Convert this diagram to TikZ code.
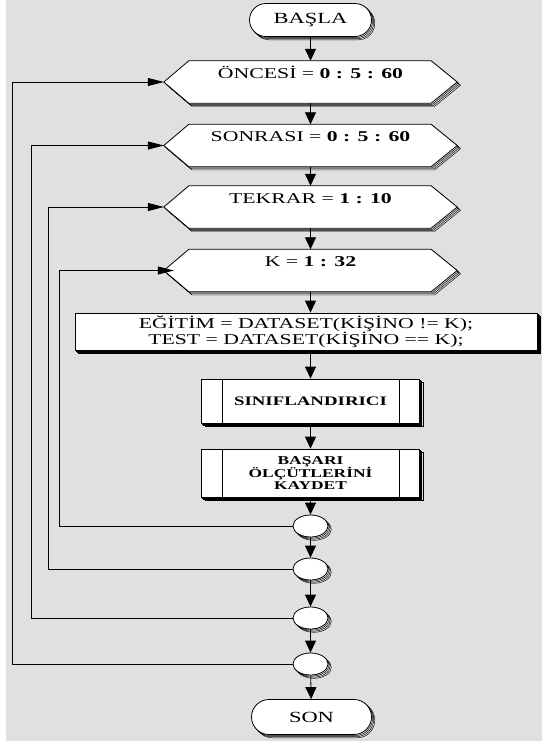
\documentclass[tikz,border=0pt]{standalone}
\usepackage{fontspec}
\setmainfont{Liberation Serif}[FakeStretch=1.45]
\usetikzlibrary{arrows.meta,shapes.misc,shapes.geometric}
\definecolor{bg}{HTML}{E0E0E0}
\begin{document}
\begin{tikzpicture}[x=1pt,y=-1pt,
  lay/.style={
    preaction={draw,line width=0.45pt,transform canvas={shift={(3.3pt,-3.3pt)}}},
    preaction={draw,line width=0.45pt,transform canvas={shift={(2.2pt,-2.2pt)}}},
    preaction={draw,line width=0.45pt,transform canvas={shift={(1.1pt,-1.1pt)}}},
    draw, fill=white, line width=0.8pt},
  term/.style={rounded rectangle, lay, minimum width=122pt, minimum height=33pt,
    inner sep=0pt, font=\fontsize{15.5}{18}\selectfont},
  frame/.style={rectangle, minimum width=293pt, minimum height=42pt, inner sep=0pt},
  hextext/.style={font=\fontsize{15}{18}\selectfont, inner sep=0pt},
  pp/.style={rectangle, lay, minimum width=218pt, inner sep=0pt},
  conn/.style={ellipse, lay, minimum width=35pt, minimum height=22pt, inner sep=0pt},
  flow/.style={-{Triangle[length=12pt,width=11pt]}, line width=0.8pt},
  back/.style={-{Triangle[length=16pt,width=8pt]}, line width=0.8pt}
]
\useasboundingbox (0,0) rectangle (542,742);
\fill[bg] (6,0) rectangle (542,741);

% start / end terminals
\node[term] (start) at (310.5,20) {BAŞLA};
\node[term, minimum width=120pt, minimum height=35pt] (stop) at (311.5,717) {SON};

% loop headers (hexagons) built on invisible frames
\node[frame] (h1) at (310.5,82) {};
\node[frame] (h2) at (310.5,145.5) {};
\node[frame] (h3) at (310.5,207) {};
\node[frame] (h4) at (310.5,270.5) {};
\foreach \h in {h1,h2,h3,h4}
  \path[lay] (\h.west) -- ([xshift=25pt]\h.north west) -- ([xshift=-26pt]\h.north east)
    -- (\h.east) -- ([xshift=-26pt]\h.south east) -- ([xshift=25pt]\h.south west) -- cycle;
\node[hextext] (t1) at ([yshift=10pt]h1.center) {ÖNCESİ = \textbf{0 : 5 : 60}};
\node[hextext] (t2) at ([yshift=9pt]h2.center) {SONRASI = \textbf{0 : 5 : 60}};
\node[hextext] (t3) at ([yshift=8pt]h3.center) {TEKRAR = \textbf{1 : 10}};
\node[hextext] (t4) at ([yshift=8.5pt]h4.center) {K = \textbf{1 : 32}};

% data split box
\node[rectangle, lay, minimum width=462pt, minimum height=37pt, align=center, inner sep=0pt,
  font=\fontsize{15}{16}\selectfont] (split) at (306,331.5)
  {EĞİTİM = DATASET(KİŞİNO != K);\\TEST = DATASET(KİŞİNO == K);};

% predefined processes
\node[pp, minimum height=44pt, font=\bfseries\fontsize{13}{15}\selectfont] (p1) at (310.5,401) {SINIFLANDIRICI};
\node[pp, minimum height=48pt, align=center, font=\bfseries\fontsize{12}{12}\selectfont] (p2) at (310.5,473)
  {BAŞARI\\ÖLÇÜTLERİNİ\\KAYDET};
\foreach \p in {p1,p2} {
  \draw[line width=0.8pt] ([xshift=21pt]\p.north west) -- ([xshift=21pt]\p.south west);
  \draw[line width=0.8pt] ([xshift=-21pt]\p.north east) -- ([xshift=-21pt]\p.south east);
}

% loop-end connectors
\node[conn] (e1) at (310.5,526) {};
\node[conn] (e2) at (310.5,569) {};
\node[conn] (e3) at (310.5,618) {};
\node[conn] (e4) at (310.5,664) {};

% main flow
\draw[flow] (start) -- (h1);
\draw[flow] (h1) -- (h2);
\draw[flow] (h2) -- (h3);
\draw[flow] (h3) -- (h4);
\draw[flow] (h4.south) -- (h4.south |- split.north);
\draw[flow] (split.south -| p1.north) -- (p1.north);
\draw[flow] (p1) -- (p2);
\draw[flow] (p2) -- (e1);
\draw[flow] (e1) -- (e2);
\draw[flow] (e2) -- (e3);
\draw[flow] (e3) -- (e4);
\draw[flow] (e4) -- (stop);

% return lines of the nested loops
\coordinate (r1) at (59,0);
\coordinate (r2) at (48,0);
\coordinate (r3) at (31,0);
\coordinate (r4) at (12,0);
\draw[back, shorten >=-10pt] (e1.west) -- (e1.west -| r1) |- (h4.west);
\draw[back] (e2.west) -- (e2.west -| r2) |- (h3.west);
\draw[back] (e3.west) -- (e3.west -| r3) |- (h2.west);
\draw[back] (e4.west) -- (e4.west -| r4) |- (h1.west);
\end{tikzpicture}
\end{document}
